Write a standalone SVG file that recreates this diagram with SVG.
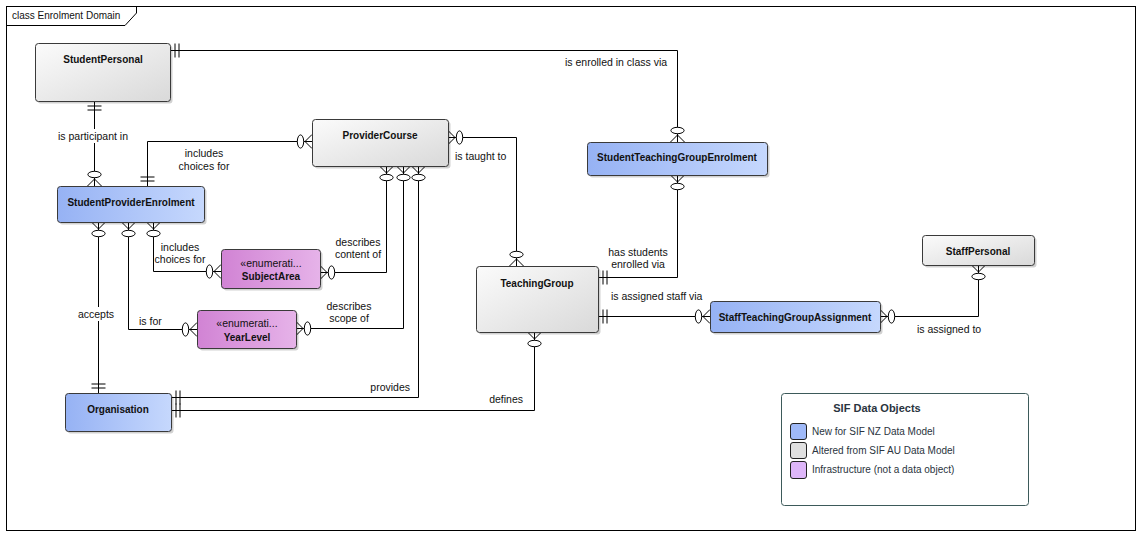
<svg xmlns="http://www.w3.org/2000/svg" width="1142" height="537" viewBox="0 0 1142 537">
<style>
text{font-family:"Liberation Sans",Arial,sans-serif;fill:#111}
.lbl{font-size:10.5px}
.nm{font-size:10px;font-weight:bold;text-anchor:middle}
.st{font-size:10.5px;text-anchor:middle}
.box{stroke:#3a3a3a;stroke-width:1}
.sh{fill:#000;opacity:.18}
.cn{fill:none;stroke:#000;stroke-width:1}
.lg{font-size:10px;fill:#2a3440}
</style>
<defs>
<linearGradient id="gGray" x1="0" y1="0" x2="1" y2="1"><stop offset="0" stop-color="#fbfbfb"/><stop offset="1" stop-color="#d9d9d9"/></linearGradient>
<linearGradient id="gBlue" x1="0" y1="0" x2="1" y2="0"><stop offset="0" stop-color="#96b2f4"/><stop offset="1" stop-color="#c6d8fd"/></linearGradient>
<linearGradient id="gPurple" x1="0" y1="0" x2="1" y2="0"><stop offset="0" stop-color="#d183d4"/><stop offset="1" stop-color="#e6b3e9"/></linearGradient>
<g id="zm"><path d="M0,-7 L7,0 L0,7 M0,0 H8" fill="none" stroke="#000"/><ellipse cx="11.5" cy="0" rx="3.2" ry="6.6" fill="#fff" stroke="#000"/></g>
<g id="oo"><path d="M5,-7 V7 M9,-7 V7 M0,0 H10" fill="none" stroke="#000"/></g>
</defs>
<rect x="0" y="0" width="1142" height="537" fill="#fff"/>
<g id="frame">
<rect x="6.5" y="6.5" width="1129" height="524" fill="none" stroke="#000"/>
<path d="M6.5,25.5 H125 L136.5,13 V6.5" fill="none" stroke="#000"/>
<text x="12" y="19" style="font-size:10px">class Enrolment Domain</text>
</g>
<g id="connectors">
<path class="cn" d="M170,50.5 H677.5 V142"/>
<path class="cn" d="M94.5,101 V186"/>
<path class="cn" d="M147.5,186 V141.5 H312"/>
<path class="cn" d="M448,137.5 H516.5 V266"/>
<path class="cn" d="M386.5,166 V272.5 H320"/>
<path class="cn" d="M403.5,166 V328.5 H296"/>
<path class="cn" d="M418.5,166 V397.5 H171"/>
<path class="cn" d="M534.5,332 V410.5 H171"/>
<path class="cn" d="M98.5,222 V393"/>
<path class="cn" d="M128.5,222 V329.5 H197"/>
<path class="cn" d="M153.5,222 V271.5 H221"/>
<path class="cn" d="M598,277.5 H677.5 V175"/>
<path class="cn" d="M598,316.5 H710"/>
<path class="cn" d="M978.5,265 V316.5 H880"/>
<use href="#oo" transform="translate(170,50.5)"/>
<use href="#zm" transform="translate(677.5,142) rotate(-90)"/>
<use href="#oo" transform="translate(94.5,101) rotate(90)"/>
<use href="#zm" transform="translate(94.5,186) rotate(-90)"/>
<use href="#oo" transform="translate(147.5,186) rotate(-90)"/>
<use href="#zm" transform="translate(312,141.5) rotate(180)"/>
<use href="#zm" transform="translate(448,137.5)"/>
<use href="#zm" transform="translate(516.5,266) rotate(-90)"/>
<use href="#zm" transform="translate(386.5,166) rotate(90)"/>
<use href="#zm" transform="translate(320,272.5)"/>
<use href="#zm" transform="translate(403.5,166) rotate(90)"/>
<use href="#zm" transform="translate(296,328.5)"/>
<use href="#zm" transform="translate(418.5,166) rotate(90)"/>
<use href="#oo" transform="translate(171,397.5)"/>
<use href="#zm" transform="translate(534.5,332) rotate(90)"/>
<use href="#oo" transform="translate(171,410.5)"/>
<use href="#zm" transform="translate(98.5,222) rotate(90)"/>
<use href="#oo" transform="translate(98.5,393) rotate(-90)"/>
<use href="#zm" transform="translate(128.5,222) rotate(90)"/>
<use href="#zm" transform="translate(197,329.5) rotate(180)"/>
<use href="#zm" transform="translate(153.5,222) rotate(90)"/>
<use href="#zm" transform="translate(221,271.5) rotate(180)"/>
<use href="#oo" transform="translate(598,277.5)"/>
<use href="#zm" transform="translate(677.5,175) rotate(90)"/>
<use href="#oo" transform="translate(598,316.5)"/>
<use href="#zm" transform="translate(710,316.5) rotate(180)"/>
<use href="#zm" transform="translate(978.5,265) rotate(90)"/>
<use href="#zm" transform="translate(880,316.5)"/>
<text class="lbl" x="565" y="66">is enrolled in class via</text>
<rect x="55" y="129" width="76" height="14" fill="#fff"/>
<text class="st" x="93" y="139.5">is participant in</text>
<text class="st" x="204" y="157">includes</text>
<text class="st" x="204" y="170">choices for</text>
<text class="lbl" x="455" y="159.5">is taught to</text>
<text class="st" x="358" y="245.5">describes</text>
<text class="st" x="358" y="258">content of</text>
<text class="st" x="349" y="309.5">describes</text>
<text class="st" x="349" y="322">scope of</text>
<text class="lbl" x="410" y="391" text-anchor="end">provides</text>
<text class="lbl" x="523" y="402.5" text-anchor="end">defines</text>
<rect x="76" y="307" width="40" height="14" fill="#fff"/>
<text class="st" x="96" y="317.5">accepts</text>
<text class="lbl" x="139" y="324.5">is for</text>
<text class="st" x="180" y="250.5">includes</text>
<text class="st" x="180" y="263">choices for</text>
<text class="st" x="638" y="255.5">has students</text>
<text class="st" x="638" y="268">enrolled via</text>
<text class="lbl" x="611" y="299.5">is assigned staff via</text>
<text class="lbl" x="917" y="332.5">is assigned to</text>
</g>
<g id="StudentPersonal">
<rect class="sh" x="37.5" y="45.5" width="135" height="58" rx="3"/>
<rect class="box" x="35.5" y="43.5" width="135" height="58" rx="3" fill="url(#gGray)"/>
<text class="nm" x="103" y="63">StudentPersonal</text>
</g>
<g id="StudentProviderEnrolment">
<rect class="sh" x="59.5" y="188.5" width="147" height="36" rx="3"/>
<rect class="box" x="57.5" y="186.5" width="147" height="36" rx="3" fill="url(#gBlue)"/>
<text class="nm" x="131" y="205.5">StudentProviderEnrolment</text>
</g>
<g id="ProviderCourse">
<rect class="sh" x="314.5" y="121.5" width="136" height="47" rx="3"/>
<rect class="box" x="312.5" y="119.5" width="136" height="47" rx="3" fill="url(#gGray)"/>
<text class="nm" x="380" y="139">ProviderCourse</text>
</g>
<g id="SubjectArea">
<rect class="sh" x="223.5" y="251.5" width="99" height="39" rx="3"/>
<rect class="box" x="221.5" y="249.5" width="99" height="39" rx="3" fill="url(#gPurple)"/>
<text class="st" x="271" y="266.5">«enumerati...</text>
<text class="nm" x="271" y="280">SubjectArea</text>
</g>
<g id="YearLevel">
<rect class="sh" x="199.5" y="312.5" width="99" height="38" rx="3"/>
<rect class="box" x="197.5" y="310.5" width="99" height="38" rx="3" fill="url(#gPurple)"/>
<text class="st" x="247" y="327">«enumerati...</text>
<text class="nm" x="247" y="341">YearLevel</text>
</g>
<g id="TeachingGroup">
<rect class="sh" x="478.5" y="268.5" width="122" height="66" rx="3"/>
<rect class="box" x="476.5" y="266.5" width="122" height="66" rx="3" fill="url(#gGray)"/>
<text class="nm" x="537" y="286.5">TeachingGroup</text>
</g>
<g id="StudentTeachingGroupEnrolment">
<rect class="sh" x="589.5" y="144.5" width="180" height="33" rx="3"/>
<rect class="box" x="587.5" y="142.5" width="180" height="33" rx="3" fill="url(#gBlue)"/>
<text class="nm" x="677" y="161">StudentTeachingGroupEnrolment</text>
</g>
<g id="StaffPersonal">
<rect class="sh" x="924.5" y="237.5" width="112" height="30" rx="3"/>
<rect class="box" x="922.5" y="235.5" width="112" height="30" rx="3" fill="url(#gGray)"/>
<text class="nm" x="978" y="255">StaffPersonal</text>
</g>
<g id="StaffTeachingGroupAssignment">
<rect class="sh" x="712.5" y="303.5" width="170" height="31" rx="3"/>
<rect class="box" x="710.5" y="301.5" width="170" height="31" rx="3" fill="url(#gBlue)"/>
<text class="nm" x="795" y="321">StaffTeachingGroupAssignment</text>
</g>
<g id="Organisation">
<rect class="sh" x="67.5" y="395.5" width="106" height="38" rx="3"/>
<rect class="box" x="65.5" y="393.5" width="106" height="38" rx="3" fill="url(#gBlue)"/>
<text class="nm" x="118" y="413">Organisation</text>
</g>
<g id="Legend">
<rect x="781.5" y="393.5" width="247" height="112" rx="3" fill="#fff" stroke="#3d5a5a"/>
<text x="877" y="412" style="font-size:11px;font-weight:bold;text-anchor:middle;fill:#2a3440">SIF Data Objects</text>
<rect x="790.5" y="423.5" width="16" height="16" rx="2.5" fill="#9fb9f8" stroke="#222"/>
<rect x="790.5" y="442.5" width="16" height="16" rx="2.5" fill="#e0e0e0" stroke="#222"/>
<rect x="790.5" y="461.5" width="16" height="17" rx="2.5" fill="#deb6f9" stroke="#222"/>
<text class="lg" x="812" y="434.5">New for SIF NZ Data Model</text>
<text class="lg" x="812" y="454">Altered from SIF AU Data Model</text>
<text class="lg" x="812" y="473">Infrastructure (not a data object)</text>
</g>
</svg>
